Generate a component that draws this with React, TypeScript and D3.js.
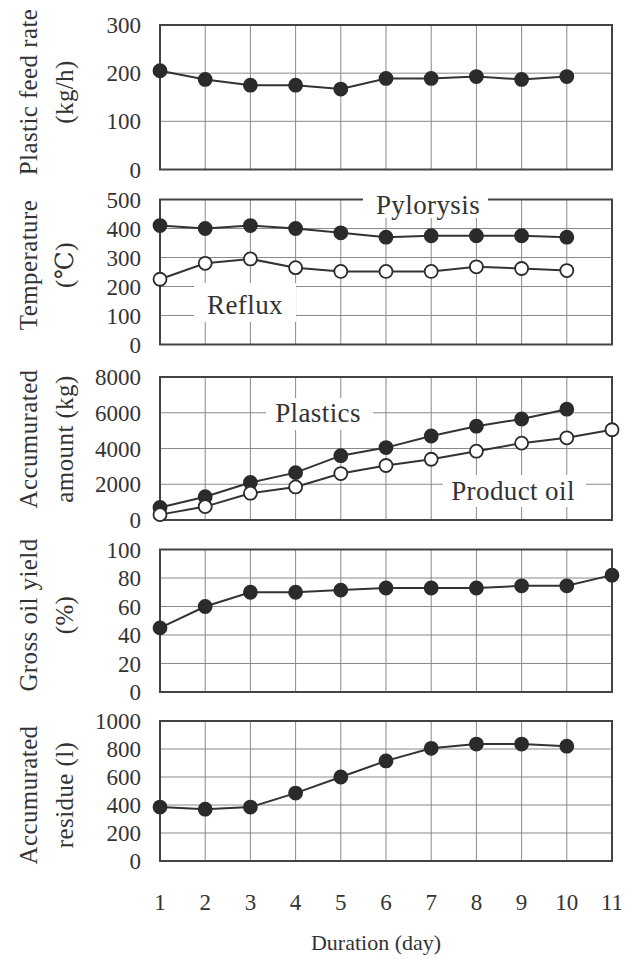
import React from "react";
import * as d3 from "d3";

// ---- data ----
const days = [1, 2, 3, 4, 5, 6, 7, 8, 9, 10, 11];
const feedRate = [205, 187, 175, 175, 167, 189, 189, 193, 187, 193];
const pyrolysisTemp = [410, 400, 410, 400, 385, 370, 375, 375, 375, 370];
const refluxTemp = [225, 280, 295, 265, 252, 252, 252, 268, 262, 255];
const plasticsAmount = [700, 1300, 2100, 2650, 3600, 4050, 4700, 5250, 5650, 6200];
const productOilAmount = [300, 750, 1500, 1850, 2600, 3050, 3400, 3850, 4300, 4600, 5050];
const grossOilYield = [45, 60, 70, 70, 71.5, 73, 73, 73, 74.5, 74.5, 82];
const residueAmount = [385, 370, 385, 485, 600, 715, 805, 835, 835, 820];

const ticks1 = [0, 100, 200, 300];
const ticks2 = [0, 100, 200, 300, 400, 500];
const ticks3 = [0, 2000, 4000, 6000, 8000];
const ticks4 = [0, 20, 40, 60, 80, 100];
const ticks5 = [0, 200, 400, 600, 800, 1000];

// ---- layout ----
const W = 632;
const H = 959;
const X0 = 160;
const X1 = 612;
const FONT = "Liberation Serif, DejaVu Serif, Times New Roman, serif";
const INK = "#333";
const GRID = "#8a8a8a";

type Series = { values: number[]; filled: boolean };
type Label = { text: string; x: number; y: number; bx0: number; bx1: number; by0: number; by1: number };
type Panel = {
  top: number;
  bottom: number;
  ticks: number[];
  title: [string, string];
  titleY: number;
  series: Series[];
  labels: Label[];
};

const panels: Panel[] = [
  {
    top: 25, bottom: 169.5, ticks: ticks1,
    title: ["Plastic feed rate", "(kg/h)"], titleY: 92,
    series: [{ values: feedRate, filled: true }],
    labels: [],
  },
  {
    top: 199.5, bottom: 344.5, ticks: ticks2,
    title: ["Temperature", "(℃)"], titleY: 265,
    series: [
      { values: pyrolysisTemp, filled: true },
      { values: refluxTemp, filled: false },
    ],
    labels: [
      { text: "Pylorysis", x: 428, y: 214, bx0: 363, bx1: 488, by0: 190, by1: 218 },
      { text: "Reflux", x: 245, y: 314, bx0: 194, bx1: 296, by0: 283, by1: 322 },
    ],
  },
  {
    top: 377, bottom: 520, ticks: ticks3,
    title: ["Accumurated", "amount (kg)"], titleY: 439,
    series: [
      { values: plasticsAmount, filled: true },
      { values: productOilAmount, filled: false },
    ],
    labels: [
      { text: "Plastics", x: 318, y: 422, bx0: 266, bx1: 373, by0: 398, by1: 430 },
      { text: "Product oil", x: 513, y: 500, bx0: 443, bx1: 586, by0: 475, by1: 507 },
    ],
  },
  {
    top: 549.5, bottom: 692, ticks: ticks4,
    title: ["Gross oil yield", "(%)"], titleY: 615,
    series: [{ values: grossOilYield, filled: true }],
    labels: [],
  },
  {
    top: 721, bottom: 861, ticks: ticks5,
    title: ["Accumurated", "residue (l)"], titleY: 795,
    series: [{ values: residueAmount, filled: true }],
    labels: [],
  },
];

const x = d3.scaleLinear().domain([1, 11]).range([X0, X1]);

function PanelView({ p }: { p: Panel }) {
  const y = d3
    .scaleLinear()
    .domain([p.ticks[0], p.ticks[p.ticks.length - 1]])
    .range([p.bottom, p.top]);
  const line = d3
    .line<number>()
    .x((_, i) => x(days[i]))
    .y((v) => y(v));
  const innerDays = days.slice(1, -1);
  const innerTicks = p.ticks.slice(1, -1);
  return (
    <g>
      {innerTicks.map((t) => (
        <line key={"h" + t} x1={X0} x2={X1} y1={y(t)} y2={y(t)} stroke={GRID} strokeWidth={1} />
      ))}
      {innerDays.map((d) => (
        <line key={"v" + d} x1={x(d)} x2={x(d)} y1={p.top} y2={p.bottom} stroke={GRID} strokeWidth={1} />
      ))}
      <rect x={X0} y={p.top} width={X1 - X0} height={p.bottom - p.top} fill="none" stroke="#444" strokeWidth={2} />
      {p.labels.map((l) => (
        <g key={l.text}>
          <rect x={l.bx0} y={l.by0} width={l.bx1 - l.bx0} height={l.by1 - l.by0} fill="#fff" />
          <text x={l.x} y={l.y} textAnchor="middle" fontSize={27} letterSpacing={0.4} fill={INK} fontFamily={FONT}>
            {l.text}
          </text>
        </g>
      ))}
      {p.ticks.map((t) => (
        <text key={"t" + t} x={141} y={y(t)} dy="0.35em" textAnchor="end" fontSize={23} fill={INK} fontFamily={FONT}>
          {t}
        </text>
      ))}
      <text
        transform={`translate(28,${p.titleY}) rotate(-90)`}
        textAnchor="middle"
        dy="0.35em"
        fontSize={25}
        letterSpacing={0.4}
        fill={INK}
        fontFamily={FONT}
      >
        {p.title[0]}
      </text>
      <text
        transform={`translate(64,${p.titleY}) rotate(-90)`}
        textAnchor="middle"
        dy="0.35em"
        fontSize={25}
        letterSpacing={0.4}
        fill={INK}
        fontFamily={FONT}
      >
        {p.title[1]}
      </text>
      {p.series.map((s, si) => (
        <g key={"s" + si}>
          <path d={line(s.values) || ""} fill="none" stroke={INK} strokeWidth={2} />
          {s.values.map((v, i) => (
            <circle
              key={i}
              cx={x(days[i])}
              cy={y(v)}
              r={6.5}
              fill={s.filled ? "#2b2b2b" : "#fff"}
              stroke="#2b2b2b"
              strokeWidth={1.8}
            />
          ))}
        </g>
      ))}
    </g>
  );
}

export default function App() {
  return (
    <svg width={W} height={H} style={{ position: "absolute", left: 0, top: 0, background: "#fff" }}>
      <rect x={0} y={0} width={W} height={H} fill="#fff" />
      {panels.map((p, i) => (
        <PanelView key={i} p={p} />
      ))}
      {days.map((d) => (
        <text key={"x" + d} x={x(d)} y={902} dy="0.35em" textAnchor="middle" fontSize={23} fill={INK} fontFamily={FONT}>
          {d}
        </text>
      ))}
      <text x={376} y={950} textAnchor="middle" fontSize={22} fill={INK} fontFamily={FONT}>
        Duration (day)
      </text>
    </svg>
  );
}
